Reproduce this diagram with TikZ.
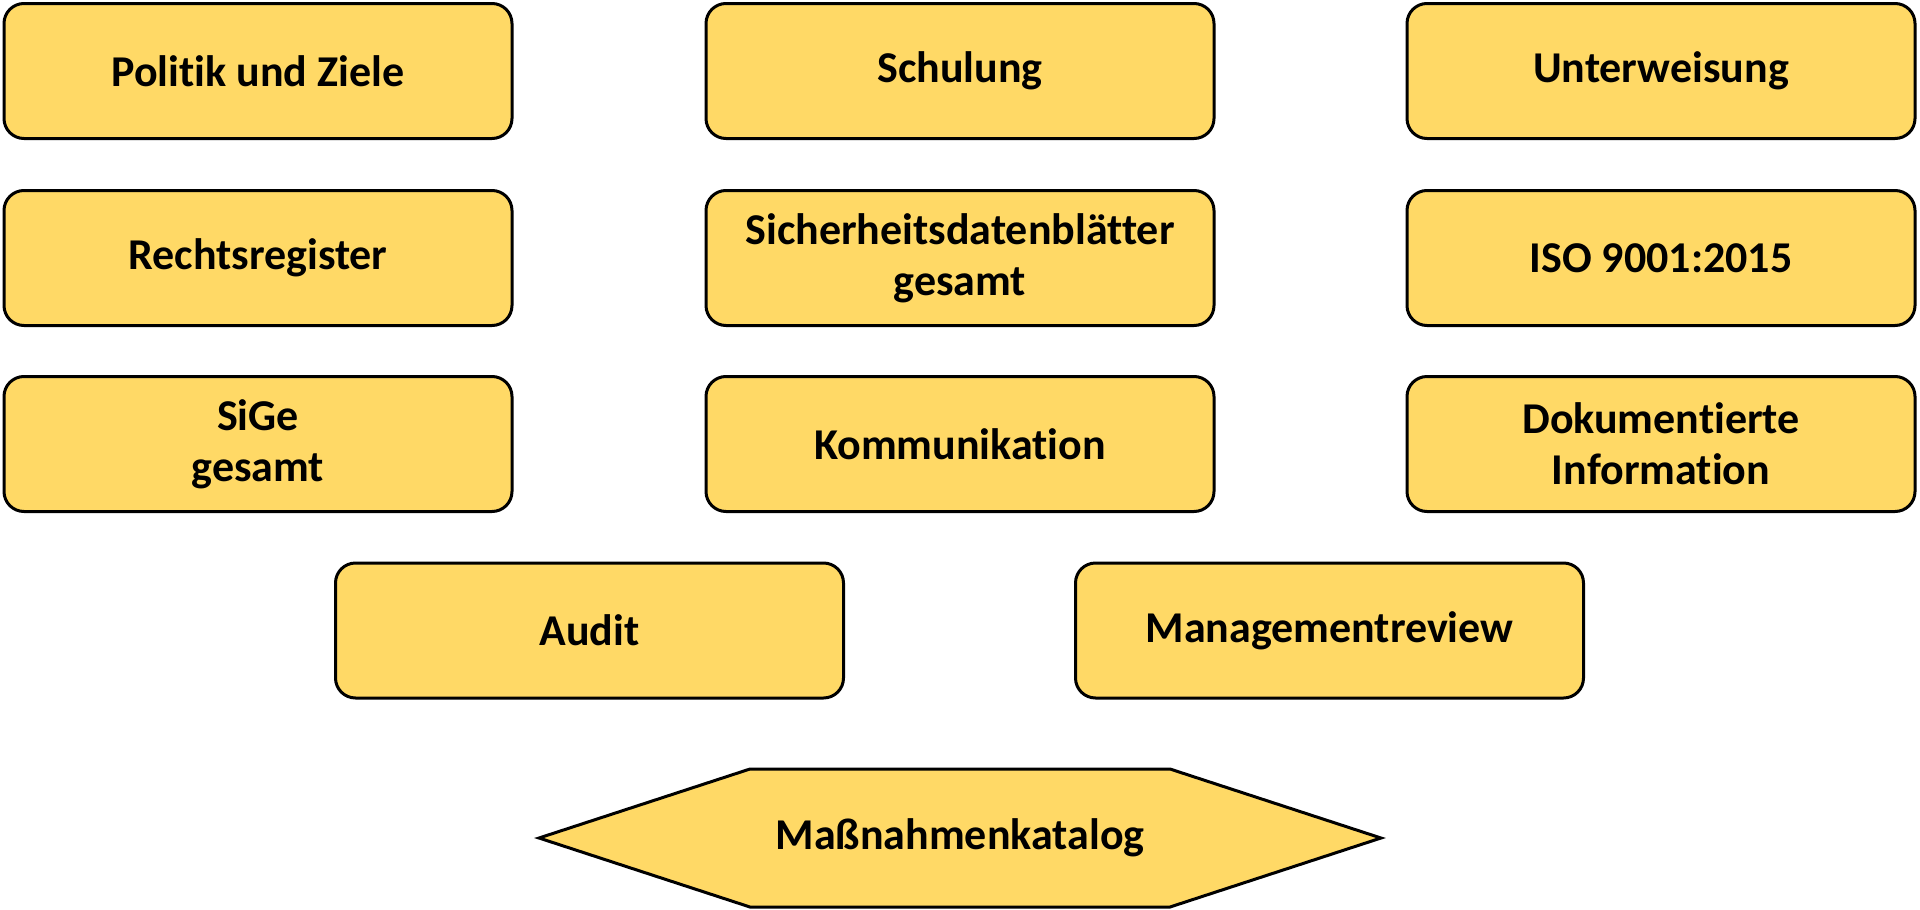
\documentclass[tikz,border=0pt]{standalone}
\usepackage{fontspec}
\setmainfont[Ligatures=NoCommon]{Carlito}
\definecolor{boxfill}{HTML}{FFD966}
\tikzset{
  box/.style={draw=black, line width=3pt, fill=boxfill, rounded corners=20pt,
    minimum width=508pt, minimum height=135pt, align=center, inner sep=0pt,
    font=\fontsize{44}{51}\selectfont\bfseries},
  hexlabel/.style={align=center, inner sep=0pt, font=\fontsize{44}{51}\selectfont\bfseries}
}
\begin{document}
\begin{tikzpicture}[x=1pt,y=-1pt]
\useasboundingbox (0,0) rectangle (1920,910);
\node[box] (politik) at (258,71) {Politik und Ziele};
\node[box] (schulung) at (960,71) {Schulung};
\node[box] (unterweisung) at (1661,71) {Unterweisung};
\node[box] (recht) at (258,258) {Rechtsregister};
\node[box] (sdb) at (960,258) {Sicherheitsdatenblätter\\gesamt};
\node[box] (iso) at (1661,258) {ISO 9001:2015};
\node[box] (sige) at (258,444) {SiGe\\gesamt};
\node[box] (komm) at (960,444) {Kommunikation};
\node[box] (doku) at (1661,444) {Dokumentierte\\Information};
\node[box] (audit) at (589.5,630.5) {Audit};
\node[box] (mgmt) at (1329.5,630.5) {Managementreview};
\draw[line width=3pt, fill=boxfill, line join=miter]
  (539,838) -- (750,769) -- (1170,769) -- (1381,838) -- (1170,907) -- (750,907) -- cycle;
\node[hexlabel] (mk) at (960,838) {Maßnahmenkatalog};
\end{tikzpicture}
\end{document}
